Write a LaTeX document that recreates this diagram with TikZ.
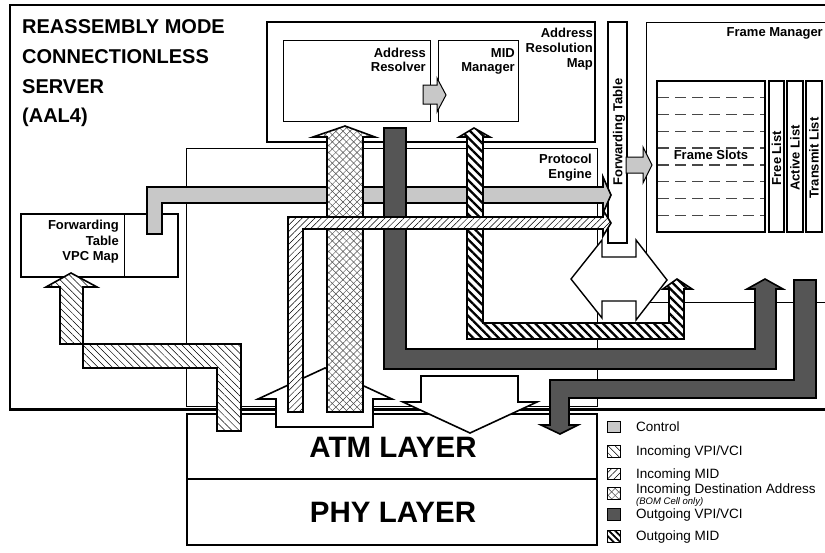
\documentclass[tikz,border=0pt]{standalone}
\usepackage{fontspec}
\setmainfont{Liberation Sans}
\usetikzlibrary{patterns.meta}
\definecolor{ctrlgray}{RGB}{200,200,200}
\definecolor{outgray}{RGB}{85,85,85}
\begin{document}
\begin{tikzpicture}[x=1pt,y=-1pt,
  box/.style={draw, line width=1.2pt},
  thinbox/.style={draw, line width=0.9pt},
  arr/.style={draw, line width=1.6pt, line join=miter},
  ctrl/.style={arr, fill=ctrlgray},
  outvpi/.style={arr, fill=outgray},
  whitearr/.style={arr, fill=white},
  invpi/.style={arr, preaction={fill=white}, pattern={Lines[angle=-45,distance=5pt,line width=0.5pt]}},
  inmid/.style={arr, preaction={fill=white}, pattern={Lines[angle=45,distance=4.5pt,line width=0.5pt]}},
  indest/.style={arr, preaction={fill=white}, preaction={pattern={Lines[angle=45,distance=5pt,line width=0.5pt]}, pattern color=black!70}, pattern={Lines[angle=-45,distance=5pt,line width=0.5pt]}, pattern color=black!70},
  outmid/.style={arr, preaction={fill=white}, pattern={Lines[angle=-45,distance=6pt,line width=2.3pt]}},
  lbl/.style={font=\bfseries\fontsize{13}{15}\selectfont, inner sep=0pt},
  title/.style={font=\bfseries\fontsize{20}{24}\selectfont, inner sep=0pt},
  layer/.style={font=\bfseries\fontsize{29.5}{32}\selectfont, inner sep=0pt},
  leg/.style={font=\fontsize{13.5}{16}\selectfont, inner sep=0pt, anchor=base west},
  legbox/.style={line width=0.8pt},
]
\useasboundingbox (0,0) rectangle (825,552);
\fill[white] (0,0) rectangle (825,552);

% outer server box
\draw[line width=2.4pt] (10,5) rectangle (832,409.5);
\node[title, anchor=base west] (t1) at (22,33) {REASSEMBLY MODE};
\node[title, anchor=base west] (t2) at (22,63) {CONNECTIONLESS};
\node[title, anchor=base west] (t3) at (22,93) {SERVER};
\node[title, anchor=base west] (t4) at (22,122) {(AAL4)};

% address resolution map
\draw[box] (267,22) rectangle (595,142);
\node[lbl, anchor=base east] (arm1) at (593,37) {Address};
\node[lbl, anchor=base east] (arm2) at (593,52) {Resolution};
\node[lbl, anchor=base east] (arm3) at (593,67) {Map};
\draw[thinbox] (283,40) rectangle (430,121);
\node[lbl, anchor=base east] (ar1) at (426,57) {Address};
\node[lbl, anchor=base east] (ar2) at (426,71) {Resolver};
\draw[thinbox] (438,40) rectangle (518,121);
\node[lbl, anchor=base east] (mid1) at (515,57) {MID};
\node[lbl, anchor=base east] (mid2) at (515,71) {Manager};
\path[ctrl, line width=1pt] (423,85) -- (437,85) -- (437,78) -- (446,95) -- (437,112) -- (437,104) -- (423,104) -- cycle;

% protocol engine
\draw[line width=0.9pt] (186,148) rectangle (597,406);
\node[lbl, anchor=base east] (pe1) at (592,163) {Protocol};
\node[lbl, anchor=base east] (pe2) at (592,178) {Engine};

% frame manager
\draw[line width=0.9pt] (832,22) -- (646,22) -- (646,302) -- (832,302);
\node[lbl, anchor=base east] (fm) at (823,36) {Frame Manager};
\draw[line width=1.2pt] (657,81) rectangle (765,232);
\foreach \yy in {97.8,114.6,131.3,148,164.9,181.7,198.4,215.2}
  \draw[black!72, line width=1.3pt, dash pattern=on 11pt off 6pt] (658,\yy) -- (764,\yy);
\node[lbl, fill=white, inner sep=1pt] (fs) at (711,155) {Frame Slots};
\draw[line width=1.2pt] (769,81) rectangle (784,232);
\draw[line width=1.2pt] (787,81) rectangle (803,232);
\draw[line width=1.2pt] (806,81) rectangle (822,232);
\node[lbl, rotate=90] (fl) at (776.5,158) {Free List};
\node[lbl, rotate=90] (al) at (795,158) {Active List};
\node[lbl, rotate=90] (tl) at (814,158) {Transmit List};

% VPC map
\draw[box] (21,214) rectangle (178,277);
\draw[line width=0.9pt] (124,214) -- (124,277);
\node[lbl, anchor=base east] (vp1) at (119,229) {Forwarding};
\node[lbl, anchor=base east] (vp2) at (119,245) {Table};
\node[lbl, anchor=base east] (vp3) at (119,260) {VPC Map};

% ATM / PHY layers
\draw[line width=1.3pt] (187,414) rectangle (597,545);
\draw[line width=1.3pt] (187,479) -- (597,479);
\node[layer] (atm) at (393,447) {ATM LAYER};
\node[layer] (phy) at (393,512) {PHY LAYER};

% double arrow between protocol engine and frame manager
\path[whitearr, line width=1.4pt] (571,279) -- (602,240) -- (602,257) -- (636,257) -- (636,240) -- (667,280) -- (636,320) -- (636,301) -- (602,301) -- (602,318) -- cycle;

% forwarding table
\draw[box, fill=white] (608,22) rectangle (627,243);
\node[lbl, rotate=90] (ft) at (619,132) {Forwarding Table};
\path[ctrl, line width=1pt] (626,157) -- (643,157) -- (643,147) -- (652,165) -- (643,183) -- (643,173) -- (626,173) -- cycle;

% white arrows
\path[whitearr] (276,427) -- (276,399) -- (258,399) -- (325,368) -- (392,399) -- (373,399) -- (373,427) -- cycle;
\path[whitearr] (421,376) -- (518,376) -- (518,402) -- (537,402) -- (470,433) -- (403,402) -- (421,402) -- cycle;

% control
\path[ctrl] (147,234) -- (147,187) -- (603,187) -- (603,177) -- (611,195) -- (603,213) -- (603,203) -- (162,203) -- (162,234) -- cycle;
% incoming destination address
\path[indest] (327,412) -- (327,137) -- (313,137) -- (345,126) -- (375,137) -- (363,137) -- (363,412) -- cycle;
% outgoing VPI/VCI 1
\path[outvpi] (384,128) -- (406,128) -- (406,349) -- (755,349) -- (755,289) -- (747,289) -- (765,279) -- (783,289) -- (776,289) -- (776,369) -- (384,369) -- cycle;
% outgoing MID
\path[outmid] (467,339) -- (467,137) -- (459,137) -- (474,128) -- (490,137) -- (483,137) -- (483,323) -- (669,323) -- (669,289) -- (663,289) -- (677,279) -- (692,289) -- (684,289) -- (684,339) -- cycle;
% incoming MID
\path[inmid] (288,412) -- (288,217) -- (603,217) -- (603,210) -- (611,223) -- (603,236) -- (603,229) -- (303,229) -- (303,412) -- cycle;
% outgoing VPI/VCI 2
\path[outvpi] (794,280) -- (816,280) -- (816,398) -- (569,398) -- (569,425) -- (578,425) -- (560,434) -- (541,425) -- (550,425) -- (550,380) -- (794,380) -- cycle;
% incoming VPI/VCI
\path[invpi] (217,431) -- (217,368) -- (83,368) -- (83,287) -- (97,287) -- (71,273) -- (46,287) -- (60,287) -- (60,344) -- (241,344) -- (241,431) -- cycle;

% legend
\path[ctrl, legbox] (607,421) rectangle (620,432);
\node[leg] (lg1) at (636,431) {Control};
\path[invpi, legbox] (607,445) rectangle (620,457);
\node[leg] (lg2) at (636,455) {Incoming VPI/VCI};
\path[inmid, legbox] (607,468) rectangle (620,479);
\node[leg] (lg3) at (636,478) {Incoming MID};
\path[indest, legbox] (607,487) rectangle (620,499);
\node[leg] (lg4) at (636,493) {Incoming Destination Address};
\node[leg, font=\itshape\fontsize{9.5}{11}\selectfont] (lg4b) at (636,504.5) {(BOM Cell only)};
\path[outvpi, legbox] (607,508) rectangle (620,520);
\node[leg] (lg5) at (636,518) {Outgoing VPI/VCI};
\path[outmid, legbox, pattern={Lines[angle=-45,distance=4.5pt,line width=1.8pt]}] (607,530) rectangle (620,542);
\node[leg] (lg6) at (636,540) {Outgoing MID};
\end{tikzpicture}
\end{document}
